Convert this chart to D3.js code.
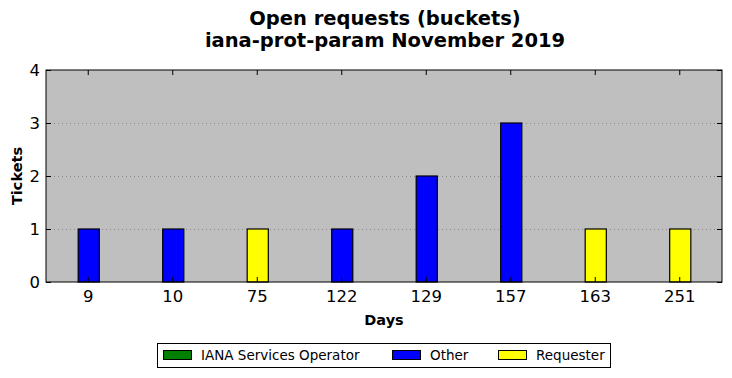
<!DOCTYPE html>
<html>
<head>
<meta charset="utf-8">
<script src="https://cdn.jsdelivr.net/npm/d3@7"></script>
<style>
  body { margin: 0; background: white; }
  text { font-family: "DejaVu Sans", sans-serif; }
</style>
</head>
<body>
<div id="chart"></div>
<script>
// Data
const days = ["9", "10", "75", "122", "129", "157", "163", "251"];
const ianaOperator = [0, 0, 0, 0, 0, 0, 0, 0];
const other = [1, 1, 0, 1, 2, 3, 0, 0];
const requester = [0, 0, 1, 0, 0, 0, 1, 1];
const yTicks = [0, 1, 2, 3, 4];

const seriesNames = ["IANA Services Operator", "Other", "Requester"];
const seriesColors = ["#008000", "#0000ff", "#ffff00"];
const seriesValues = [ianaOperator, other, requester];

const width = 732;
const height = 378;
const plotLeft = 46, plotRight = 722, plotTop = 70, plotBottom = 282;

const svg = d3.select("#chart").append("svg")
  .attr("width", width)
  .attr("height", height)

let xScale = d3.scaleBand()
  .domain(days)
  .range([plotLeft, plotRight])
  .padding(0)
let yScale = d3.scaleLinear()
  .domain([0, 4])
  .range([plotBottom, plotTop])

// Plot background
svg.append("rect")
  .attr("x", plotLeft).attr("y", plotTop)
  .attr("width", plotRight - plotLeft).attr("height", plotBottom - plotTop)
  .attr("fill", "#bfbfbf")

// Grid lines
svg.selectAll(".grid")
  .data(yTicks.slice(1, -1))
  .enter().append("line")
  .attr("x1", plotLeft).attr("x2", plotRight)
  .attr("y1", d => yScale(d) + 0.5).attr("y2", d => yScale(d) + 0.5)
  .attr("stroke", "#8a8a8a")
  .attr("stroke-width", 1)
  .attr("stroke-dasharray", "1,3")

// Stacked bars
let barW = xScale.bandwidth() * 0.25;
let rows = days.map((d, i) => {
  let r = { day: d };
  seriesNames.forEach((s, j) => r[s] = seriesValues[j][i]);
  return r;
});
let stack = d3.stack().keys(seriesNames)(rows);

stack.forEach((layer, j) => {
  svg.selectAll(".bar" + j)
    .data(layer.filter(d => d[1] - d[0] > 0))
    .enter().append("rect")
    .attr("x", d => xScale(d.data.day) + xScale.bandwidth() / 2 - barW / 2 + 0.5)
    .attr("y", d => yScale(d[1]))
    .attr("width", barW)
    .attr("height", d => yScale(d[0]) - yScale(d[1]))
    .attr("fill", seriesColors[j])
    .attr("stroke", "black")
    .attr("stroke-width", 1.2)
});

// Axes
let xAxis = d3.axisBottom(xScale).tickSizeInner(-5).tickSizeOuter(0).tickPadding(8)
let yAxis = d3.axisLeft(yScale).tickValues(yTicks).tickFormat(d3.format("d")).tickSizeInner(-5).tickSizeOuter(0).tickPadding(6)

let gx = svg.append("g")
  .attr("transform", "translate(0," + plotBottom + ")")
  .call(xAxis)
gx.select(".domain").remove()
gx.selectAll("text").attr("font-size", "16.5px").attr("fill", "black")
  .attr("font-family", "DejaVu Sans")

// top ticks
svg.append("g")
  .attr("transform", "translate(0," + plotTop + ")")
  .call(d3.axisTop(xScale).tickSizeInner(-5).tickSizeOuter(0).tickFormat(""))
  .select(".domain").remove()

let gy = svg.append("g")
  .attr("transform", "translate(" + plotLeft + ",0)")
  .call(yAxis)
gy.select(".domain").remove()
gy.selectAll("text").attr("font-size", "16.5px").attr("fill", "black")
  .attr("font-family", "DejaVu Sans")

svg.append("g")
  .attr("transform", "translate(" + plotRight + ",0)")
  .call(d3.axisRight(yScale).tickValues(yTicks).tickSizeInner(-5).tickSizeOuter(0).tickFormat(""))
  .select(".domain").remove()

// Frame
svg.append("rect")
  .attr("x", plotLeft).attr("y", plotTop)
  .attr("width", plotRight - plotLeft).attr("height", plotBottom - plotTop)
  .attr("fill", "none")
  .attr("stroke", "black")
  .attr("stroke-width", 1)

// Titles
svg.append("text")
  .attr("x", 385).attr("y", 25)
  .attr("text-anchor", "middle")
  .attr("font-size", "19.5px")
  .attr("font-weight", "bold")
  .text("Open requests (buckets)")
svg.append("text")
  .attr("x", 385).attr("y", 47)
  .attr("text-anchor", "middle")
  .attr("font-size", "19.5px")
  .attr("font-weight", "bold")
  .text("iana-prot-param November 2019")

svg.append("text")
  .attr("x", 384).attr("y", 325)
  .attr("text-anchor", "middle")
  .attr("font-size", "14.5px")
  .attr("font-weight", "bold")
  .text("Days")

svg.append("text")
  .attr("transform", "translate(22," + ((plotTop + plotBottom) / 2) + ") rotate(-90)")
  .attr("text-anchor", "middle")
  .attr("font-size", "14.5px")
  .attr("font-weight", "bold")
  .text("Tickets")

// Legend
svg.append("rect")
  .attr("x", 157.5).attr("y", 343.5)
  .attr("width", 453).attr("height", 24)
  .attr("fill", "white")
  .attr("stroke", "black")
  .attr("stroke-width", 1)
let legendX = [163, 392, 498];
seriesNames.forEach((s, j) => {
  svg.append("rect")
    .attr("x", legendX[j] + 0.5).attr("y", 350.5)
    .attr("width", 28).attr("height", 9)
    .attr("fill", seriesColors[j])
    .attr("stroke", "black")
  svg.append("text")
    .attr("x", legendX[j] + 38).attr("y", 360)
    .attr("font-size", "13.5px")
    .text(s)
});
</script>
</body>
</html>
